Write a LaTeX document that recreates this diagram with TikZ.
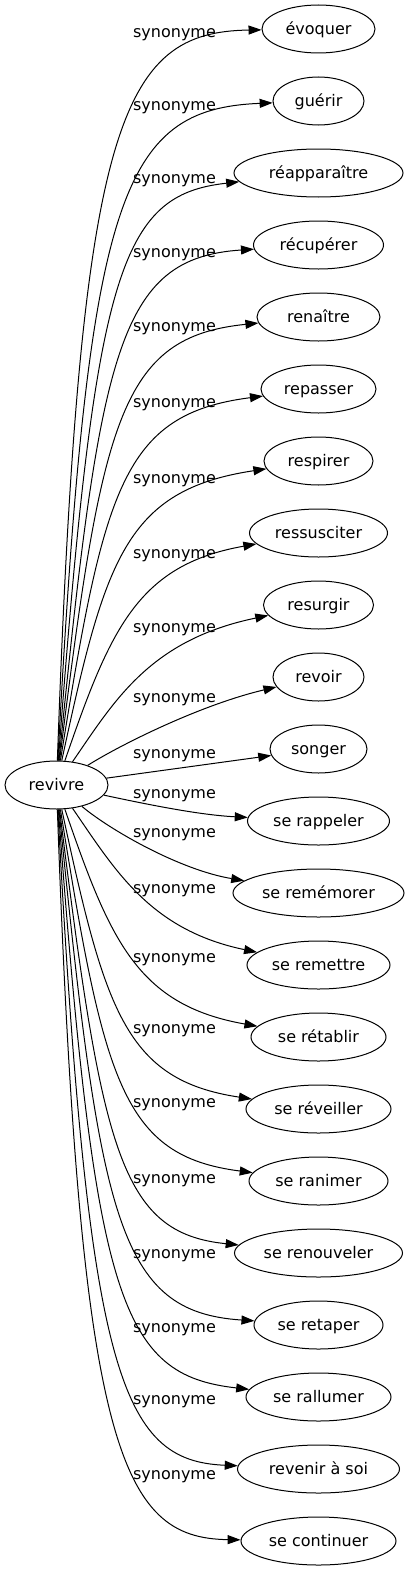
\documentclass[tikz,border=0pt]{standalone}
\usepackage{fontspec}
\setmainfont{DejaVu Sans}
\usetikzlibrary{shapes.geometric, arrows.meta}

\begin{document}
\begin{tikzpicture}[x=1pt, y=-1pt,
        word/.style={draw, ellipse, line width=1pt, inner sep=0pt, minimum height=48pt,
            font=\fontsize{16}{19}\selectfont, text height=13pt, text depth=2pt},
        tag/.style={inner sep=0pt, font=\fontsize{16}{19}\selectfont, text height=13pt, text depth=2pt},
        rel/.style={-{Triangle[length=13pt, width=9pt]}, line width=1pt}]
        % Canvas (pixel units, y grows downwards)
        \useasboundingbox (0,0) rectangle (410,1571);

        % Source word
        \node[word, minimum width=103pt] (revivre) at (56.5,785) {revivre};

        % Synonyms, one per row, 72 units apart
        \node[word, minimum width=113pt] (evoquer) at (318.5,29) {évoquer};
        \node[word, minimum width=91pt] (guerir) at (318.5,101) {guérir};
        \node[word, minimum width=169pt] (reapparaitre) at (318.5,173) {réapparaître};
        \node[word, minimum width=130pt] (recuperer) at (318.5,245) {récupérer};
        \node[word, minimum width=123pt] (renaitre) at (318.5,317) {renaître};
        \node[word, minimum width=115pt] (repasser) at (318.5,389) {repasser};
        \node[word, minimum width=109pt] (respirer) at (318.5,461) {respirer};
        \node[word, minimum width=138pt] (ressusciter) at (318.5,533) {ressusciter};
        \node[word, minimum width=110pt] (resurgir) at (318.5,605) {resurgir};
        \node[word, minimum width=91pt] (revoir) at (318.5,677) {revoir};
        \node[word, minimum width=97pt] (songer) at (318.5,749) {songer};
        \node[word, minimum width=142pt] (rappeler) at (318.5,821) {se rappeler};
        \node[word, minimum width=171pt] (rememorer) at (318.5,893) {se remémorer};
        \node[word, minimum width=143pt] (remettre) at (318.5,965) {se remettre};
        \node[word, minimum width=135pt] (retablir) at (318.5,1037) {se rétablir};
        \node[word, minimum width=145pt] (reveiller) at (318.5,1109) {se réveiller};
        \node[word, minimum width=139pt] (ranimer) at (318.5,1181) {se ranimer};
        \node[word, minimum width=168pt] (renouveler) at (318.5,1253) {se renouveler};
        \node[word, minimum width=129pt] (retaper) at (318.5,1325) {se retaper};
        \node[word, minimum width=145pt] (rallumer) at (318.5,1397) {se rallumer};
        \node[word, minimum width=162pt] (revenir) at (318.5,1469) {revenir à soi};
        \node[word, minimum width=155pt] (continuer) at (318.5,1541) {se continuer};

        % Edge labels
        \node[tag] (lab1) at (174.5,32) {synonyme};
        \node[tag] (lab2) at (174.5,105) {synonyme};
        \node[tag] (lab3) at (174.5,178) {synonyme};
        \node[tag] (lab4) at (174.5,252) {synonyme};
        \node[tag] (lab5) at (174.5,326) {synonyme};
        \node[tag] (lab6) at (174.5,402) {synonyme};
        \node[tag] (lab7) at (174.5,478) {synonyme};
        \node[tag] (lab8) at (174.5,553) {synonyme};
        \node[tag] (lab9) at (174.5,627) {synonyme};
        \node[tag] (lab10) at (174.5,697) {synonyme};
        \node[tag] (lab11) at (174.5,753) {synonyme};
        \node[tag] (lab12) at (174.5,793) {synonyme};
        \node[tag] (lab13) at (174.5,832) {synonyme};
        \node[tag] (lab14) at (174.5,888) {synonyme};
        \node[tag] (lab15) at (174.5,957) {synonyme};
        \node[tag] (lab16) at (174.5,1028) {synonyme};
        \node[tag] (lab17) at (174.5,1102) {synonyme};
        \node[tag] (lab18) at (174.5,1178) {synonyme};
        \node[tag] (lab19) at (174.5,1253) {synonyme};
        \node[tag] (lab20) at (174.5,1327) {synonyme};
        \node[tag] (lab21) at (174.5,1399) {synonyme};
        \node[tag] (lab22) at (174.5,1474) {synonyme};

        % Upper fan: leave the top of revivre, bend right near the labels
        \draw[rel] (revivre) .. controls (80,120) and (120,32) .. (evoquer);
        \draw[rel] (revivre) .. controls (88,196) and (120,109) .. (guerir);
        \draw[rel] (revivre) .. controls (95,270) and (120,195) .. (reapparaitre);
        \draw[rel] (revivre) .. controls (100,350) and (118,258) .. (recuperer);
        \draw[rel] (revivre) .. controls (102,419) and (120,337) .. (renaitre);
        \draw[rel] (revivre) .. controls (104,489) and (122,414) .. (repasser);
        \draw[rel] (revivre) .. controls (105,560) and (125,490) .. (respirer);
        \draw[rel] (revivre) .. controls (110,630) and (137,565) .. (ressusciter);
        \draw[rel] (revivre) .. controls (115,700) and (150,640) .. (resurgir);
        \draw[rel] (revivre) .. controls (120,745) and (200,705) .. (revoir);

        % Middle: nearly straight
        \draw[rel] (revivre) -- (songer);
        \draw[rel] (revivre) .. controls (150,805) and (200,815) .. (rappeler);
        \draw[rel] (revivre) .. controls (110,830) and (180,870) .. (rememorer);

        % Lower fan: mirror of the upper one
        \draw[rel] (revivre) .. controls (115,870) and (150,930) .. (remettre);
        \draw[rel] (revivre) .. controls (110,940) and (137,1005) .. (retablir);
        \draw[rel] (revivre) .. controls (105,1010) and (125,1080) .. (reveiller);
        \draw[rel] (revivre) .. controls (104,1081) and (122,1156) .. (ranimer);
        \draw[rel] (revivre) .. controls (102,1151) and (120,1233) .. (renouveler);
        \draw[rel] (revivre) .. controls (100,1220) and (118,1312) .. (retaper);
        \draw[rel] (revivre) .. controls (95,1300) and (120,1375) .. (rallumer);
        \draw[rel] (revivre) .. controls (88,1374) and (120,1461) .. (revenir);
        \draw[rel] (revivre) .. controls (80,1450) and (120,1538) .. (continuer);

    \end{tikzpicture}
\end{document}
